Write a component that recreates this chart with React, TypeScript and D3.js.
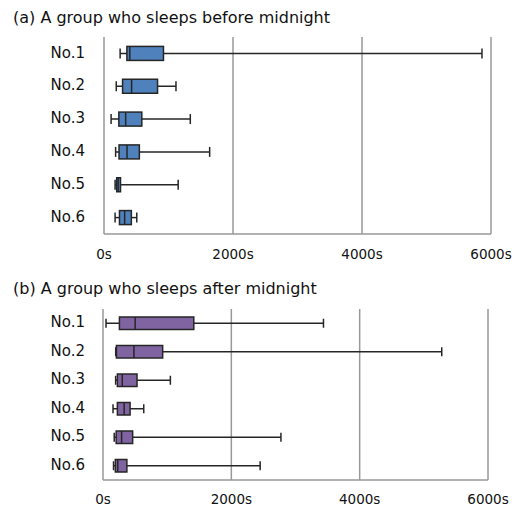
import * as d3 from 'd3';

// box stats in seconds: [min, q1, median, q3, max]
const rows = ['No.1', 'No.2', 'No.3', 'No.4', 'No.5', 'No.6'];
const before1 = [250, 355, 400, 922, 5860];
const before2 = [190, 288, 428, 830, 1116];
const before3 = [110, 230, 336, 586, 1338];
const before4 = [180, 233, 357, 548, 1638];
const before5 = [172, 197, 220, 256, 1150];
const before6 = [172, 240, 320, 424, 508];

const after1 = [47, 256, 501, 1415, 3436];
const after2 = [198, 209, 482, 930, 5279];
const after3 = [197, 224, 300, 530, 1050];
const after4 = [156, 224, 330, 422, 635];
const after5 = [175, 205, 290, 462, 2773];
const after6 = [164, 192, 230, 372, 2449];

const ticks = [0, 2000, 4000, 6000];

const panels = [
  {
    title: '(a) A group who sleeps before midnight',
    stats: [before1, before2, before3, before4, before5, before6],
    fill: '#4f81bd',
    left: 104, right: 491, top: 37, bottom: 234,
    titleY: 23, tickY: 259, boxH: 14, capH: 10,
  },
  {
    title: '(b) A group who sleeps after midnight',
    stats: [after1, after2, after3, after4, after5, after6],
    fill: '#8064a2',
    left: 103, right: 488, top: 309, bottom: 480,
    titleY: 294, tickY: 504, boxH: 12.5, capH: 9,
  },
];

const font = 'DejaVu Sans, Verdana, sans-serif';
const gridColor = '#999999';
const ink = '#262626';

function Panel({ p }: { p: typeof panels[0] }) {
  const x = d3.scaleLinear().domain([0, 6000]).range([p.left, p.right]);
  const y = d3.scaleBand().domain(rows).range([p.top, p.bottom]);
  return (
    <g>
      <text x={13} y={p.titleY} fontSize={16} fontFamily={font} fill="#111">
        {p.title}
      </text>
      {ticks.map(t => (
        <g key={t}>
          <line x1={x(t)} x2={x(t)} y1={p.top} y2={p.bottom} stroke={gridColor} strokeWidth={1.5} />
          <text x={x(t)} y={p.tickY} textAnchor="middle" fontSize={13.5} fontFamily={font} fill="#111">
            {t + 's'}
          </text>
        </g>
      ))}
      <line x1={p.left} x2={p.right} y1={p.bottom} y2={p.bottom} stroke={gridColor} strokeWidth={1.5} />
      {rows.map((r, i) => {
        const [lo, q1, med, q3, hi] = p.stats[i];
        const cy = (y(r) as number) + y.bandwidth() / 2;
        return (
          <g key={r}>
            <text x={85} y={cy} dy="0.28em" textAnchor="end" fontSize={15} fontFamily={font} fill="#111">
              {r}
            </text>
            <line x1={x(lo)} x2={x(hi)} y1={cy} y2={cy} stroke={ink} strokeWidth={1.5} />
            <line x1={x(lo)} x2={x(lo)} y1={cy - p.capH / 2} y2={cy + p.capH / 2} stroke={ink} strokeWidth={1.5} />
            <line x1={x(hi)} x2={x(hi)} y1={cy - p.capH / 2} y2={cy + p.capH / 2} stroke={ink} strokeWidth={1.5} />
            <rect x={x(q1)} y={cy - p.boxH / 2} width={x(q3) - x(q1)} height={p.boxH}
              fill={p.fill} stroke={ink} strokeWidth={1.5} />
            <line x1={x(med)} x2={x(med)} y1={cy - p.boxH / 2} y2={cy + p.boxH / 2} stroke={ink} strokeWidth={1.5} />
          </g>
        );
      })}
    </g>
  );
}

export default function App() {
  return (
    <svg width={516} height={508} style={{ position: 'absolute', left: 0, top: 0, background: '#fff' }}>
      {panels.map(p => <Panel key={p.title} p={p} />)}
    </svg>
  );
}
